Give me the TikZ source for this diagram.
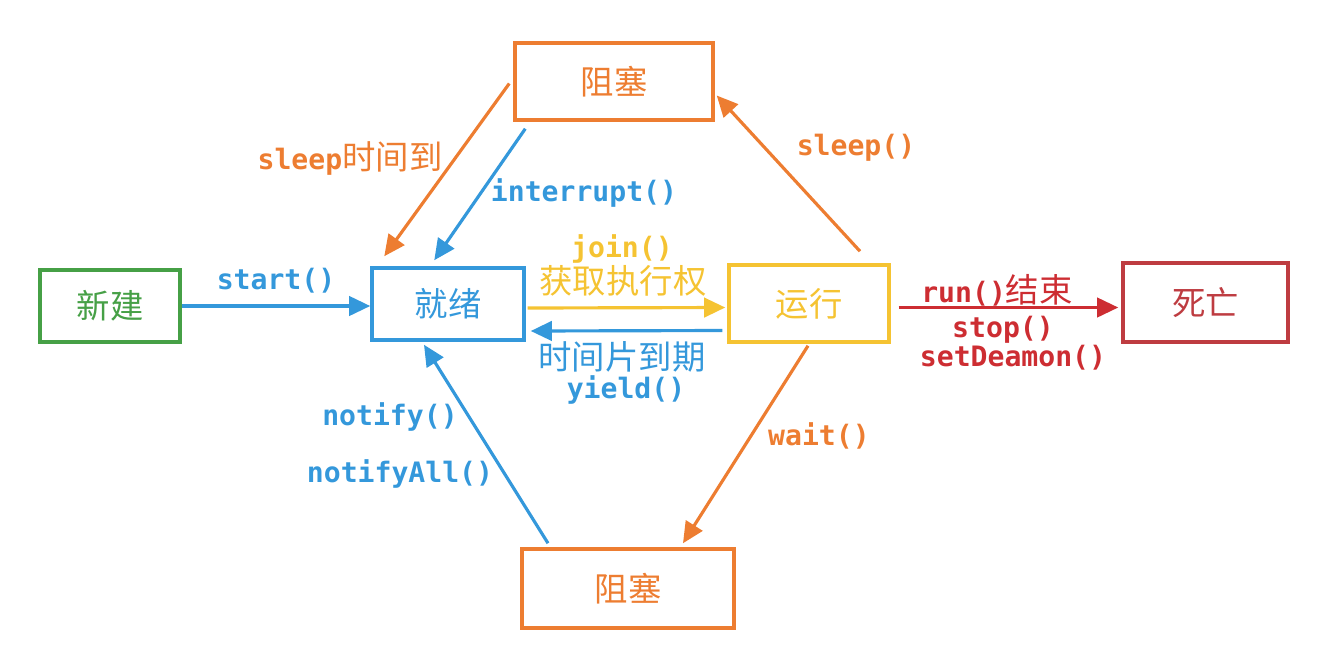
\documentclass[tikz,border=0pt]{standalone}
\usepackage{fontspec}
\setmonofont{DejaVu Sans Mono}
\newfontfamily\cjk{Noto Sans CJK SC}
\usetikzlibrary{arrows.meta, calc, positioning}
\definecolor{tblue}{RGB}{52,152,219}
\definecolor{torange}{RGB}{237,125,49}
\definecolor{tyellow}{RGB}{245,195,50}
\definecolor{tred}{RGB}{205,45,50}
\definecolor{tgreen}{RGB}{70,160,70}
\definecolor{tdark}{RGB}{190,60,65}
\newcommand\zhtext[1]{{\cjk\mdseries\fontsize{19}{21}\selectfont #1}}
\tikzset{
  state/.style={draw=#1, text=#1, line width=2pt, inner sep=0pt,
    font=\cjk\fontsize{19}{21}\selectfont},
  trans/.style={draw=#1, line width=1.8pt, -{Triangle[length=12pt,width=11pt]}},
  lbl/.style={text=#1, inner sep=0pt, font=\ttfamily\bfseries\fontsize{16}{18}\selectfont}
}
\begin{document}
\begin{tikzpicture}[x=0.02cm, y=-0.02cm]
\useasboundingbox (0,0) rectangle (1320,664);
% states
\node[state=tgreen, minimum width=2.8cm, minimum height=1.44cm] (new) at (110,306) {新建};
\node[state=tblue, minimum width=3.04cm, minimum height=1.44cm] (ready) at (448,304) {就绪};
\node[state=tyellow, minimum width=3.2cm, minimum height=1.54cm] (run) at (809,303.5) {运行};
\node[state=tdark, minimum width=3.3cm, minimum height=1.58cm] (dead) at (1205.5,302.5) {死亡};
\node[state=torange, minimum width=3.96cm, minimum height=1.54cm] (blocktop) at (614,81.5) {阻塞};
\node[state=torange, minimum width=4.24cm, minimum height=1.58cm] (blockbot) at (628,588.5) {阻塞};
% transitions
\draw[trans=tblue] (new.east) -- (new.east -| ready.west);
\draw[trans=torange] ($(blocktop.west)+(-4,2)$) -- ($(ready.north west)+(14,-10)$);
\draw[trans=tblue] ($(blocktop.south west)+(12,7)$) -- ($(ready.north west)+(64,-6)$);
\draw[trans=tyellow] ($(ready.east)+(2,4)$) -- ($(run.west)+(-2,4)$);
\draw[trans=tblue] ($(run.west)+(-5,27)$) -- ($(ready.east)+(5,27)$);
\draw[trans=tred] ($(run.east)+(8,4)$) -- ($(dead.west)+(-3,5)$);
\draw[trans=torange] ($(run.north)+(51,-12)$) -- ($(blocktop.east)+(2,14)$);
\draw[trans=torange] ($(run.south)+(-1,2)$) -- ($(blockbot.north)+(55,-4)$);
\draw[trans=tblue] ($(blockbot.north)+(-80,-4)$) -- ($(ready.south)+(-24,3)$);
% labels
\node[lbl=tblue] (lstart) at (276,281) {start()};
\node[lbl=torange] (lwake) at (350,158) {sleep\zhtext{时间到}};
\node[lbl=tblue] (lint) at (584,193) {interrupt()};
\node[lbl=tyellow] (ljoin) at (622,249) {join()};
\node[lbl=tyellow] (lget) at (623,281) {\zhtext{获取执行权}};
\node[lbl=tblue] (lslice) at (622,357) {\zhtext{时间片到期}};
\node[lbl=tblue] (lyield) at (626,390) {yield()};
\node[lbl=tred] (lend) at (997,290) {run()\zhtext{结束}};
\node[lbl=tred] (lstop) at (1003,330) {stop()};
\node[lbl=tred] (ldaemon) at (1013,358) {setDeamon()};
\node[lbl=torange] (lsleep) at (856,148) {sleep()};
\node[lbl=torange] (lwait) at (819,436) {wait()};
\node[lbl=tblue] (lnotify) at (390,417) {notify()};
\node[lbl=tblue] (lnotifyall) at (400,474) {notifyAll()};
\end{tikzpicture}
\end{document}
